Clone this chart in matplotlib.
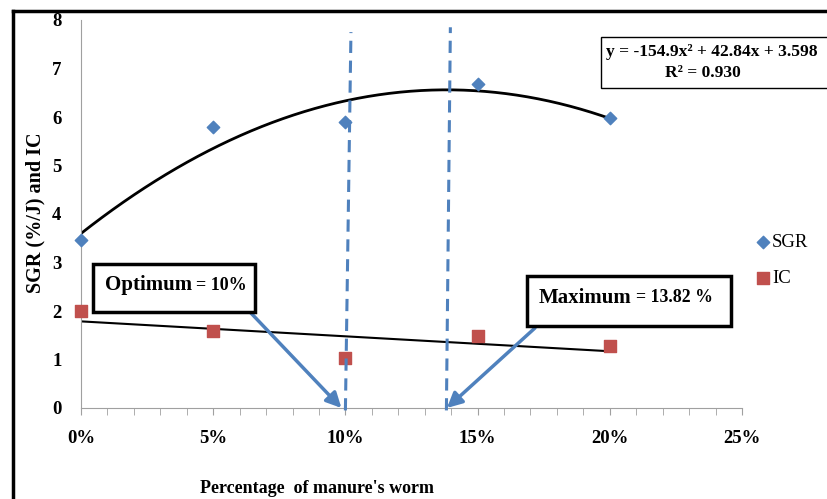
import numpy as np
import matplotlib
matplotlib.use("Agg")
import matplotlib.pyplot as plt
from matplotlib.lines import Line2D
from matplotlib.patches import Rectangle
from matplotlib.ticker import MultipleLocator, FuncFormatter

plt.rcParams['font.family'] = ['Liberation Serif', 'DejaVu Serif']

# data
pct = [0.0, 0.05, 0.10, 0.15, 0.20]
sgr = [3.46, 5.80, 5.90, 6.68, 5.98]
ic = [2.00, 1.59, 1.03, 1.49, 1.28]
sgr_coef = [-154.9, 42.84, 3.598]
optimum = 0.10
maximum = 0.1382

blue = '#4F81BD'
red = '#C0504D'

fig = plt.figure(figsize=(8.28, 4.99), dpi=100)
ax = fig.add_axes([81 / 828, 1 - 408 / 499, (742 - 81) / 828, (408 - 20) / 499])

# outer frame (left and top edges visible)
fig.add_artist(Line2D([13 / 828, 13 / 828], [0, 1 - 11 / 499], color='black', lw=2.5))
fig.add_artist(Line2D([13 / 828, 1.0], [1 - 11 / 499, 1 - 11 / 499], color='black', lw=2.5))

# trend lines
xs = np.linspace(0, 0.2, 200)
ax.plot(xs, np.polyval(sgr_coef, xs), color='black', lw=2, zorder=2)
ic_fit = np.polyfit(pct, ic, 1)
ax.plot([0, 0.2], np.polyval(ic_fit, [0, 0.2]), color='black', lw=1.5, zorder=2)

# markers
ax.scatter(pct, sgr, marker='D', s=40, color=blue, zorder=3, label='SGR', clip_on=False)
ax.scatter(pct, ic, marker='s', s=80, color=red, zorder=3, label='IC', clip_on=False)

# dashed vertical lines (slightly slanted as in the original drawing)
ax.plot([optimum, optimum + 0.0021], [-0.05, 7.75], color=blue, lw=2.2,
        ls=(0, (4, 2.5)), zorder=4, clip_on=False)
ax.plot([maximum, maximum + 0.0015], [-0.05, 7.85], color=blue, lw=2.2,
        ls=(0, (4, 2.5)), zorder=4, clip_on=False)

ax.set_xlim(0, 0.25)
ax.set_ylim(0, 8)
for s in ['top', 'right']:
    ax.spines[s].set_visible(False)
for s in ['left', 'bottom']:
    ax.spines[s].set_color('#A0A0A0')
ax.xaxis.set_major_locator(MultipleLocator(0.05))
ax.xaxis.set_minor_locator(MultipleLocator(0.01))
ax.xaxis.set_major_formatter(FuncFormatter(lambda v, p: f"{v * 100:.0f}%"))
ax.yaxis.set_major_locator(MultipleLocator(1))
ax.tick_params(axis='x', which='both', direction='out', length=5, color='#A0A0A0',
               labelsize=13.5, pad=11)
ax.tick_params(axis='y', length=0, labelsize=13.5, pad=14)
for lab in ax.get_xticklabels() + ax.get_yticklabels():
    lab.set_fontweight('bold')

ax.set_ylabel('SGR (%/J) and IC', fontsize=14.5, fontweight='bold')
ax.yaxis.set_label_coords(-0.054, 0.503)
ax.set_xlabel("Percentage  of manure's worm", fontsize=13, fontweight='bold')
ax.xaxis.set_label_coords(0.357, -0.185)

# equation box (runs off the right edge like the original)
fig.add_artist(Rectangle((601 / 828, 1 - 88 / 499), 0.3, 51 / 499, fc='white',
                         ec='black', lw=1, transform=fig.transFigure, zorder=5))
fig.text(606 / 828, 1 - 52 / 499, 'y = -154.9x² + 42.84x + 3.598', fontsize=12.6,
         fontweight='bold', ha='left', va='center', zorder=6)
fig.text(703 / 828, 1 - 73 / 499, 'R² = 0.930', fontsize=12.6,
         fontweight='bold', ha='center', va='center', zorder=6)

# annotation boxes with arrows
arrow = dict(arrowstyle='-|>,head_width=0.45,head_length=0.9', color=blue, lw=2.5,
             shrinkA=0, shrinkB=0)
ax.annotate('', xy=(0.0985, 0), xytext=(0.0639, 1.98), arrowprops=arrow, zorder=6)
ax.annotate('', xy=(0.1384, 0), xytext=(0.1717, 1.65), arrowprops=arrow, zorder=6)

ax.add_patch(Rectangle((0.00454, 1.98), 0.0658 - 0.00454, 0.99, fc='white', ec='black',
                       lw=2.5, zorder=7, clip_on=False))
ax.text(0.0089, 2.53, 'Optimum', fontsize=15, fontweight='bold', ha='left',
        va='center', zorder=8)
ax.text(0.0435, 2.53, '= 10%', fontsize=13, fontweight='bold', ha='left',
        va='center', zorder=8)

ax.add_patch(Rectangle((0.1687, 1.69), 0.2458 - 0.1687, 1.03, fc='white', ec='black',
                       lw=2.5, zorder=7, clip_on=False))
ax.text(0.1732, 2.27, 'Maximum', fontsize=15, fontweight='bold', ha='left',
        va='center', zorder=8)
ax.text(0.2099, 2.27, '= 13.82 %', fontsize=12.8, fontweight='bold', ha='left',
        va='center', zorder=8)

ax.legend(loc='center left', bbox_to_anchor=(1.0, 0.38), frameon=False, fontsize=13.5,
          handletextpad=0.0, labelspacing=1.0, borderaxespad=0.2, handlelength=1.0)

fig.savefig('out.png', dpi=100)
